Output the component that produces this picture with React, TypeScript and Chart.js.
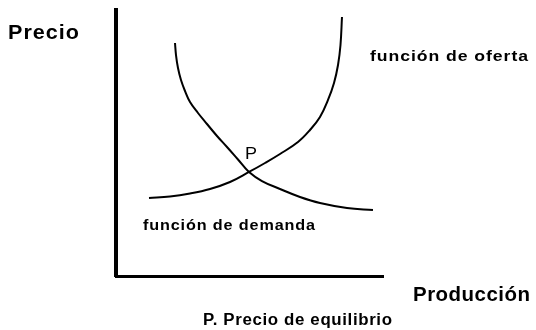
import React, { useEffect, useRef } from "react";
import { Chart, registerables } from "chart.js";

Chart.register(...registerables);

// Supply curve (función de oferta)
const ofertaX = [12.36, 20.22, 27.72, 35.21, 42.7, 49.81, 55.81, 61.42, 68.16, 72.66, 76.4, 79.4, 81.65, 83.15, 84.08, 84.64];
const ofertaY = [29.32, 29.89, 31.02, 32.71, 35.34, 39.1, 42.48, 45.86, 50.38, 54.89, 59.77, 66.17, 72.56, 79.32, 86.84, 97.37];
// Demand curve (función de demanda)
const demandaX = [22.1, 22.47, 23.22, 24.34, 25.84, 27.72, 30.71, 34.08, 37.83, 41.57, 45.69, 49.81, 54.68, 61.42, 68.91, 76.4, 86.52, 96.25];
const demandaY = [87.59, 83.08, 78.2, 73.68, 69.55, 65.41, 61.28, 57.14, 52.63, 48.5, 43.8, 39.1, 35.71, 32.71, 29.7, 27.44, 25.56, 24.81];
// Equilibrium point
const equilibrioX = [49.81];
const equilibrioY = [39.1];

const yAxisLabel = "Precio";
const xAxisLabel = "Producción";
const ofertaLabel = "función de oferta";
const demandaLabel = "función de demanda";
const pointLabel = "P";
const caption = "P. Precio de equilibrio";

const FONT = '"Liberation Sans", Arial, Helvetica, sans-serif';

const textPlugin = {
  id: "econTexts",
  afterDraw(chart: any) {
    const { ctx, scales } = chart;
    const xs = scales.x;
    const ys = scales.y;
    ctx.save();
    ctx.fillStyle = "#000";
    ctx.textBaseline = "alphabetic";
    ctx.textAlign = "left";
    const put = (text: string, left: number, base: number, size: number, weight: string, width: number, spacing: number) => {
      ctx.save();
      ctx.font = `${weight} ${size}px ${FONT}`;
      (ctx as any).letterSpacing = spacing + "px";
      const w = ctx.measureText(text).width - spacing;
      const sx = width / w;
      ctx.translate(left, base);
      ctx.scale(sx, 1);
      ctx.fillText(text, 0, 0);
      ctx.restore();
    };
    put(yAxisLabel, 8, 39, 21, "bold", 71, 1);
    put(xAxisLabel, 413, 301, 21, "bold", 117, 0.5);
    put(ofertaLabel, 370, 61, 15, "bold", 158, 0.8);
    put(demandaLabel, 143, 230, 15, "bold", 172, 0.8);
    put(caption, 203, 325, 16, "bold", 189, 0.6);
    const px = xs.getPixelForValue(equilibrioX[0]);
    const py = ys.getPixelForValue(equilibrioY[0]);
    put(pointLabel, px - 4, py - 13, 17, "normal", 12, 0);
    ctx.restore();
  },
};

export default function App() {
  const ref = useRef<HTMLCanvasElement | null>(null);
  useEffect(() => {
    if (!ref.current) return;
    const toPts = (xs: number[], ys: number[]) => xs.map((x, i) => ({ x, y: ys[i] }));
    const chart = new Chart(ref.current, {
      type: "scatter",
      data: {
        datasets: [
          {
            label: ofertaLabel,
            data: toPts(ofertaX, ofertaY),
            showLine: true,
            borderColor: "#000",
            borderWidth: 2,
            pointRadius: 0,
            tension: 0.4,
            fill: false,
          },
          {
            label: demandaLabel,
            data: toPts(demandaX, demandaY),
            showLine: true,
            borderColor: "#000",
            borderWidth: 2,
            pointRadius: 0,
            tension: 0.4,
            fill: false,
          },
        ],
      },
      options: {
        animation: false,
        responsive: false,
        devicePixelRatio: 1,
        layout: { padding: { left: 116, right: 153, top: 10, bottom: 54 } },
        plugins: { legend: { display: false }, tooltip: { enabled: false } },
        scales: {
          x: {
            type: "linear",
            min: 0,
            max: 100,
            grid: { display: false, drawTicks: false, tickLength: 0 },
            ticks: { display: false },
            border: { display: true, color: "#000", width: 3 },
          },
          y: {
            type: "linear",
            min: 0,
            max: 100,
            grid: { display: false, drawTicks: false, tickLength: 0 },
            ticks: { display: false },
            border: { display: true, color: "#000", width: 4 },
          },
        },
      },
      plugins: [textPlugin],
    });
    return () => chart.destroy();
  }, []);
  return (
    <div style={{ position: "fixed", left: 0, top: 0, width: 536, height: 330, background: "#fff" }}>
      <canvas ref={ref} width={536} height={330} style={{ display: "block", width: 536, height: 330 }} />
    </div>
  );
}
